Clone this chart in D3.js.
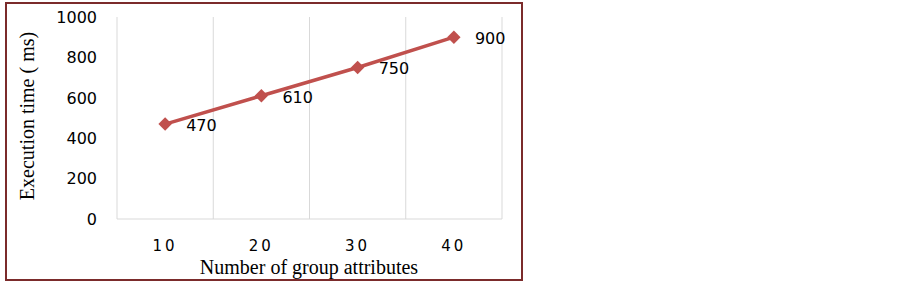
<!DOCTYPE html>
<html lang="en">
<head>
  <meta charset="UTF-8" />
  <title>Execution time</title>
  <script src="https://cdn.jsdelivr.net/npm/d3@7"></script>
  <style>
    body { margin: 0; background: #fff; }
  </style>
</head>
<body>
  <script>
    var categories = ["10", "20", "30", "40"];
    var times = [470, 610, 750, 900];
    var yTicks = [0, 200, 400, 600, 800, 1000];

    var w = 903, h = 284;
    var margin = { top: 17, right: 401, bottom: 65, left: 117 };

    var svg = d3.select("body").append("svg")
      .attr("width", w)
      .attr("height", h);

    // outer frame
    svg.append("rect")
      .attr("x", 6).attr("y", 3)
      .attr("width", 516).attr("height", 277)
      .attr("fill", "none")
      .attr("stroke", "#7b2b2b")
      .attr("stroke-width", 2);

    var xScale = d3.scaleBand()
      .domain(categories)
      .range([margin.left, w - margin.right]);

    var yScale = d3.scaleLinear()
      .domain([0, 1000])
      .range([h - margin.bottom, margin.top]);

    var g = svg.append("g");

    // vertical category separators
    var seps = categories.map(function(c) { return xScale(c); });
    seps.push(xScale.range()[1]);
    g.selectAll("line.sep")
      .data(seps)
      .enter()
      .append("line")
      .attr("x1", function(d) { return d; })
      .attr("x2", function(d) { return d; })
      .attr("y1", yScale(1000))
      .attr("y2", yScale(0))
      .attr("stroke", "#d9d9d9")
      .attr("stroke-width", 1);

    g.append("line")
      .attr("x1", margin.left).attr("x2", w - margin.right)
      .attr("y1", yScale(0)).attr("y2", yScale(0))
      .attr("stroke", "#d9d9d9");

    // y tick labels
    g.selectAll("text.ytick")
      .data(yTicks)
      .enter()
      .append("text")
      .attr("x", 97)
      .attr("y", function(d) { return yScale(d); })
      .attr("dy", "0.36em")
      .attr("text-anchor", "end")
      .attr("font-family", "DejaVu Sans, sans-serif")
      .attr("font-size", "16px")
      .attr("fill", "#000")
      .text(function(d) { return d; });

    // x tick labels
    g.selectAll("text.xtick")
      .data(categories)
      .enter()
      .append("text")
      .attr("x", function(d) { return xScale(d) + xScale.bandwidth() / 2; })
      .attr("y", 246)
      .attr("dy", "0.36em")
      .attr("text-anchor", "middle")
      .attr("font-family", "DejaVu Sans, sans-serif")
      .attr("font-size", "15px")
      .attr("letter-spacing", "3px")
      .text(function(d) { return d; });

    var line = d3.line()
      .x(function(d, i) { return xScale(categories[i]) + xScale.bandwidth() / 2; })
      .y(function(d) { return yScale(d); });

    g.append("path")
      .datum(times)
      .attr("d", line)
      .attr("fill", "none")
      .attr("stroke", "#c0504d")
      .attr("stroke-width", 3.5);

    g.selectAll("path.pt")
      .data(times)
      .enter()
      .append("path")
      .attr("d", d3.symbol().type(d3.symbolSquare).size(90))
      .attr("transform", function(d, i) {
        return "translate(" + (xScale(categories[i]) + xScale.bandwidth() / 2) + "," + yScale(d) + ") rotate(45)";
      })
      .attr("fill", "#c0504d");

    g.selectAll("text.lbl")
      .data(times)
      .enter()
      .append("text")
      .attr("x", function(d, i) { return xScale(categories[i]) + xScale.bandwidth() / 2 + 21; })
      .attr("y", function(d) { return yScale(d) + 1; })
      .attr("dy", "0.36em")
      .attr("font-family", "DejaVu Sans, sans-serif")
      .attr("font-size", "16px")
      .text(function(d) { return d; });

    // axis titles
    svg.append("text")
      .attr("x", 309)
      .attr("y", 274)
      .attr("text-anchor", "middle")
      .attr("font-family", "Liberation Serif, Times New Roman, serif")
      .attr("font-size", "20px")
      .text("Number of group attributes");

    svg.append("text")
      .attr("transform", "translate(34,116) rotate(-90)")
      .attr("text-anchor", "middle")
      .attr("font-family", "Liberation Serif, Times New Roman, serif")
      .attr("font-size", "20px")
      .text("Execution time ( ms)");
  </script>
</body>
</html>
